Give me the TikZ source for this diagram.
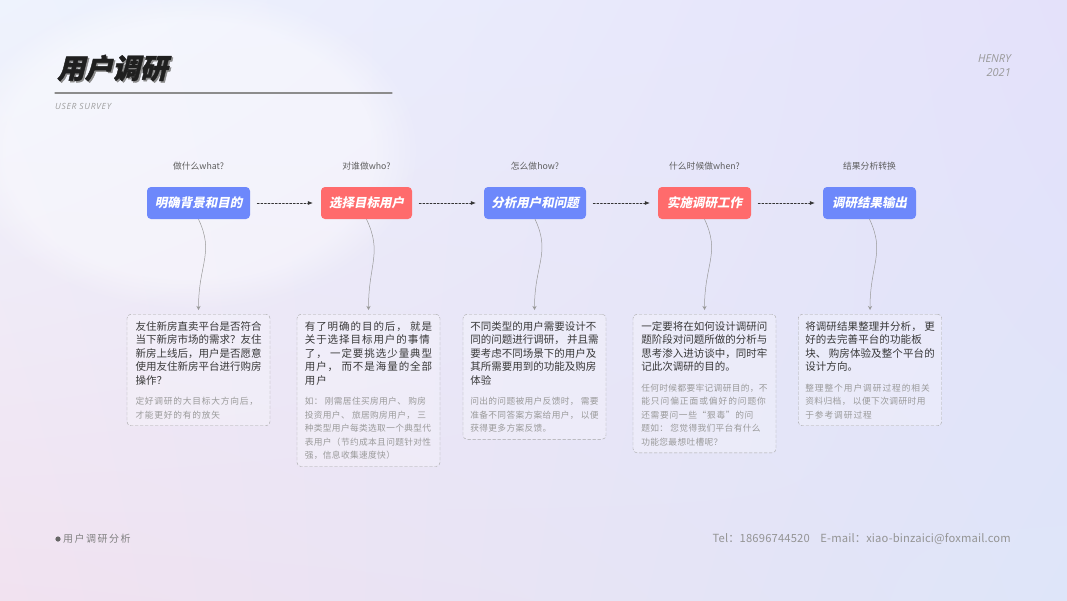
\documentclass[tikz,border=0pt]{standalone}
\usepackage{fontspec}
\setmainfont{Noto Sans CJK SC}
\newfontfamily\cjkbi[FakeSlant=0.2]{Noto Sans CJK SC}
\newfontfamily\titlefont[FakeSlant=0.25,FakeBold=1.5]{Noto Sans CJK SC}
\newfontfamily\latin{Open Sans}
\usetikzlibrary{arrows.meta,fadings,shadings}

\definecolor{stepblue}{HTML}{6D88FB}
\definecolor{stepred}{HTML}{FF6B6C}
\definecolor{bgTL}{HTML}{EEF3FD}
\definecolor{bgTR}{HTML}{E4E1FA}
\definecolor{bgBL}{HTML}{F1E2F0}
\definecolor{bgBR}{HTML}{DEE5F9}
\definecolor{maintext}{HTML}{383838}
\definecolor{notegray}{HTML}{9A9A9A}
\definecolor{askgray}{HTML}{5E5E5E}

% 灰色说明行
\newcommand\nt[2][4]{{\color{notegray}\fontsize{8.7}{13.5}\selectfont\addfontfeature{LetterSpace=#1}#2}}

\begin{document}
\begin{tikzpicture}[x=1pt,y=-1pt,line cap=round,line join=round,
  stepbox/.style={rounded corners=4pt,minimum height=32pt,inner xsep=6pt,text=white,
    font=\cjkbi\bfseries\fontsize{12.5}{14}\selectfont},
  ask/.style={text=askgray,font=\fontsize{8.8}{10}\selectfont},
  descbox/.style={draw=black!35,dash pattern=on 3pt off 2pt,rounded corners=4pt,
    fill=white,fill opacity=0.25,text opacity=1,text=maintext,anchor=north,
    minimum width=143pt,inner xsep=7pt,inner ysep=7pt,align=left,
    font=\fontsize{10.5}{13.5}\selectfont},
  flow/.style={draw=black!80,line width=0.6pt,dash pattern=on 2pt off 1.6pt,
    -{Latex[length=5pt,width=4pt]},shorten <=7pt,shorten >=8pt},
  wave/.style={draw=black!40,line width=0.5pt,-{Stealth[length=4pt,width=4pt]},shorten >=4pt}]
  \useasboundingbox (0,0) rectangle (1067,600);
  % 背景
  \shade[upper left=bgTL,upper right=bgTR,lower left=bgBL,lower right=bgBR] (0,0) rectangle (1067,600);
  \fill[white,fill opacity=0.4,path fading=circle with fuzzy edge 20 percent] (190,150) ellipse (230 and 160);
  % 标题
  \node[anchor=west,inner sep=0pt,text=black!45,font=\titlefont\bfseries\fontsize{27.5}{30}\selectfont] (titleshadow) at (58.5,69.5) {用户调研};
  \node[anchor=west,inner sep=0pt,text=black!88,font=\titlefont\bfseries\fontsize{27.5}{30}\selectfont] (title) at (57,68) {用户调研};
  \draw[line width=1.3pt,draw=black!45] (55,93) -- (392,93);
  \node[anchor=west,inner sep=0pt,text=black!38,font=\latin\itshape\fontsize{8.5}{10}\selectfont\addfontfeature{LetterSpace=8}] (subtitle) at (55,106) {USER SURVEY};
  \node[anchor=east,inner sep=0pt,text=black!40,font=\latin\itshape\fontsize{11}{12}\selectfont] (author) at (1011,59) {HENRY};
  \node[anchor=east,inner sep=0pt,text=black!40,font=\latin\itshape\fontsize{11}{12}\selectfont] (year) at (1011,73) {2021};
  % 问题
  \node[ask] (q1) at (198.5,166) {做什么what?};
  \node[ask] (q2) at (366.5,166) {对谁做who?};
  \node[ask] (q3) at (535,166) {怎么做how?};
  \node[ask] (q4) at (704.5,166) {什么时候做when?};
  \node[ask] (q5) at (869.5,166) {结果分析转换};
  % 步骤
  \node[stepbox,fill=stepblue,minimum width=103pt] (s1) at (198.5,203) {明确背景和目的};
  \node[stepbox,fill=stepred,minimum width=91pt] (s2) at (366.5,203) {选择目标用户};
  \node[stepbox,fill=stepblue,minimum width=102pt] (s3) at (535,203) {分析用户和问题};
  \node[stepbox,fill=stepred,minimum width=93pt] (s4) at (704.5,203) {实施调研工作};
  \node[stepbox,fill=stepblue,minimum width=93pt] (s5) at (869.5,203) {调研结果输出};
  \foreach \a/\b in {s1/s2,s2/s3,s3/s4,s4/s5}
    \draw[flow] (\a.east) -- (\b.west);
  % 说明
  \node[descbox] (d1) at (198.5,314) {友住新房直卖平台是否符合\\当下新房市场的需求？友住\\新房上线后，用户是否愿意\\使用友住新房平台进行购房\\操作？\\[7pt]
    \nt[9]{定好调研的大目标大方向后，}\\\nt[9]{才能更好的有的放矢}};
  \node[descbox,font=\fontsize{10.5}{13.5}\selectfont\addfontfeature{LetterSpace=9}] (d2) at (368.5,314) {有了明确的目的后，\ 就是\\关于选择目标用户的事情\\了，\ 一定要挑选少量典型\\用户，\ 而不是海量的全部\\用户\\[7pt]
    \nt{如：\ 刚需居住买房用户、\ 购房}\\\nt{投资用户、\ 旅居购房用户，\ 三}\\\nt{种类型用户每类选取一个典型代}\\\nt{表用户（节约成本且问题针对性}\\\nt{强，信息收集速度快）}};
  \node[descbox] (d3) at (534.5,314) {不同类型的用户需要设计不\\同的问题进行调研，\ 并且需\\要考虑不同场景下的用户及\\其所需要用到的功能及购房\\体验\\[7pt]
    \nt{问出的问题被用户反馈时，\ 需要}\\\nt{准备不同答案方案给用户，\ 以便}\\\nt{获得更多方案反馈。}};
  \node[descbox] (d4) at (704.5,314) {一定要将在如何设计调研问\\题阶段对问题所做的分析与\\思考渗入进访谈中，同时牢\\记此次调研的目的。\\[7pt]
    \nt{任何时候都要牢记调研目的，不}\\\nt[11]{能只问偏正面或偏好的问题你}\\\nt[8]{还需要问一些“狠毒”的问}\\\nt[4]{题如：\ 您觉得我们平台有什么}\\\nt[4]{功能您最想吐槽呢？}};
  \node[descbox,font=\fontsize{10.5}{13.5}\selectfont\addfontfeature{LetterSpace=1}] (d5) at (870,314) {将调研结果整理并分析，\ 更\\好的去完善平台的功能板\\块、\ 购房体验及整个平台的\\设计方向。\\[7pt]
    \nt[11]{整理整个用户调研过程的相关}\\\nt[5]{资料归档，\ 以便下次调研时用}\\\nt[11]{于参考调研过程}};
  \foreach \i in {1,...,5}
    \draw[wave] (s\i.south) .. controls +(16,34) and +(0,-50) .. (d\i.north);
  % 页脚
  \fill[black!60] (58,539) circle (2.6);
  \node[anchor=west,inner sep=0pt,text=black!50,font=\fontsize{10}{12}\selectfont\addfontfeature{LetterSpace=15}] (footer) at (63,539) {用户调研分析};
  \node[anchor=east,inner sep=0pt,text=black!42,font=\fontsize{11.2}{13}\selectfont\addfontfeature{LetterSpace=1.5}] (contact) at (1011,539) {Tel：18696744520\hspace{8pt} E-mail：xiao-binzaici@foxmail.com};
\end{tikzpicture}
\end{document}
